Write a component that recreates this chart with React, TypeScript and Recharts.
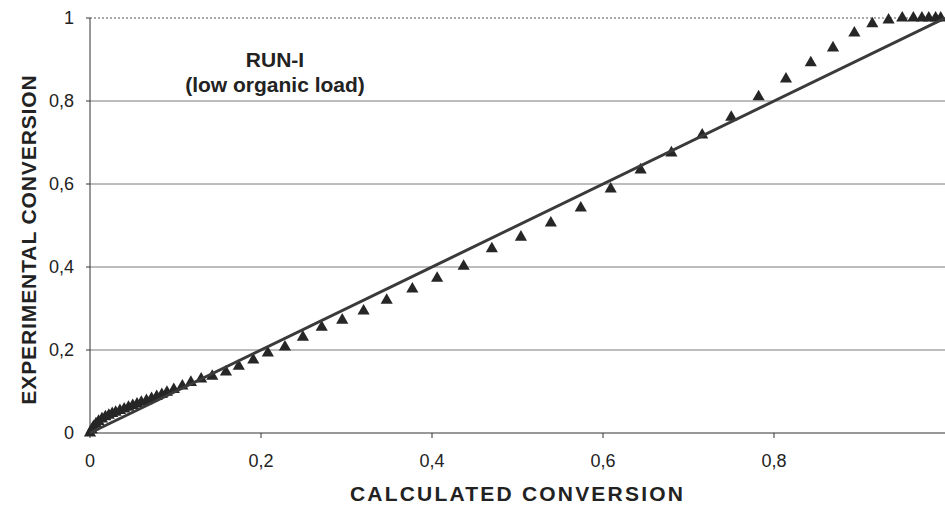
import {
  CartesianGrid,
  ReferenceLine,
  Scatter,
  ScatterChart,
  XAxis,
  YAxis,
  ZAxis
} from "recharts";

// calculated vs experimental conversion, RUN-I
const calcConv = [
  0, 0.002, 0.004, 0.007, 0.01, 0.014, 0.018, 0.022, 0.026, 0.03, 0.035, 0.04,
  0.045, 0.05, 0.055, 0.06, 0.066, 0.072, 0.078, 0.084, 0.09, 0.098, 0.108,
  0.118, 0.13, 0.143, 0.159, 0.174, 0.191, 0.208, 0.228, 0.249, 0.271, 0.295,
  0.32, 0.347, 0.377, 0.406, 0.437, 0.47, 0.504, 0.539, 0.574, 0.609, 0.644,
  0.68, 0.716, 0.75, 0.782, 0.814, 0.843, 0.869, 0.894, 0.915, 0.934, 0.95,
  0.963, 0.973, 0.981, 0.989, 0.995
];
const expConv = [
  0, 0.008, 0.015, 0.022, 0.028, 0.034, 0.039, 0.043, 0.047, 0.05, 0.054, 0.058,
  0.062, 0.066, 0.07, 0.074, 0.078, 0.083, 0.088, 0.093, 0.098, 0.105, 0.113,
  0.122, 0.13, 0.137, 0.147, 0.161, 0.176, 0.193, 0.207, 0.231, 0.255, 0.272,
  0.294, 0.32, 0.347, 0.373, 0.402, 0.444, 0.472, 0.506, 0.542, 0.588, 0.634,
  0.675, 0.718, 0.761, 0.81, 0.853, 0.892, 0.928, 0.964, 0.986, 0.995, 1, 1, 1,
  1, 1, 1
];
// y = x reference fit
const fitX = [0, 1];
const fitY = [0, 1];

const xTicks = [0, 0.2, 0.4, 0.6, 0.8];
const yTicks = [0, 0.2, 0.4, 0.6, 0.8, 1];

const points = calcConv.map((x, i) => ({ x, y: expConv[i] }));
const fitLine = fitX.map((x, i) => ({ x, y: fitY[i] }));

const FONT = "'Liberation Sans', Arial, sans-serif";
const fmt = (v: number) => String(v).replace(".", ",");

const YTitle = (props: any) => {
  const vb = props.viewBox;
  return (
    <text
      x={0}
      y={0}
      transform={`translate(36, ${vb.y + vb.height / 2 + 14}) rotate(-90)`}
      textAnchor="middle"
      fontFamily={FONT}
      fontWeight="bold"
      fontSize={21}
      letterSpacing={0.9}
      fill="#222"
    >
      EXPERIMENTAL CONVERSION
    </text>
  );
};

const XTitle = (props: any) => {
  const vb = props.viewBox;
  return (
    <text
      x={vb.x + vb.width / 2}
      y={501}
      textAnchor="middle"
      fontFamily={FONT}
      fontWeight="bold"
      fontSize={21}
      letterSpacing={2.2}
      fill="#222"
    >
      CALCULATED CONVERSION
    </text>
  );
};

export default function App() {
  return (
    <div style={{ position: "relative", width: 945, height: 506, background: "#fff" }}>
      <style>{"body{margin:0}"}</style>
      <ScatterChart
        width={945}
        height={506}
        margin={{ top: 18, right: 0, bottom: 0, left: 0 }}
      >
        <CartesianGrid vertical={false} horizontalValues={[0.2, 0.4, 0.6, 0.8]} stroke="#7a7a7a" />
        <ReferenceLine y={1} stroke="#555" strokeDasharray="2 2" />
        <XAxis
          type="number"
          dataKey="x"
          domain={[0, 1]}
          ticks={xTicks}
          tickFormatter={fmt}
          height={73}
          stroke="#333"
          tickSize={5}
          tickMargin={16}
          tick={{ fontSize: 18, fill: "#222", fontFamily: FONT }}
          label={{ content: XTitle }}
        />
        <YAxis
          type="number"
          dataKey="y"
          domain={[0, 1]}
          ticks={yTicks}
          tickFormatter={fmt}
          width={90}
          stroke="#333"
          tickSize={4}
          tickMargin={12}
          tick={{ fontSize: 18, fill: "#222", fontFamily: FONT }}
          label={{ content: YTitle }}
        />
        <ZAxis range={[70, 70]} />
        <Scatter
          data={points}
          shape="triangle"
          fill="#262626"
          isAnimationActive={false}
        />
        <Scatter
          data={fitLine}
          line={{ stroke: "#3a3a3a", strokeWidth: 3 }}
          shape={() => <g />}
          isAnimationActive={false}
        />
      </ScatterChart>
      <div
        style={{
          position: "absolute",
          left: 160,
          top: 47,
          width: 230,
          textAlign: "center",
          fontFamily: FONT,
          fontWeight: "bold",
          fontSize: 21,
          lineHeight: "25px",
          color: "#222"
        }}
      >
        RUN-I
        <br />
        (low organic load)
      </div>
    </div>
  );
}
